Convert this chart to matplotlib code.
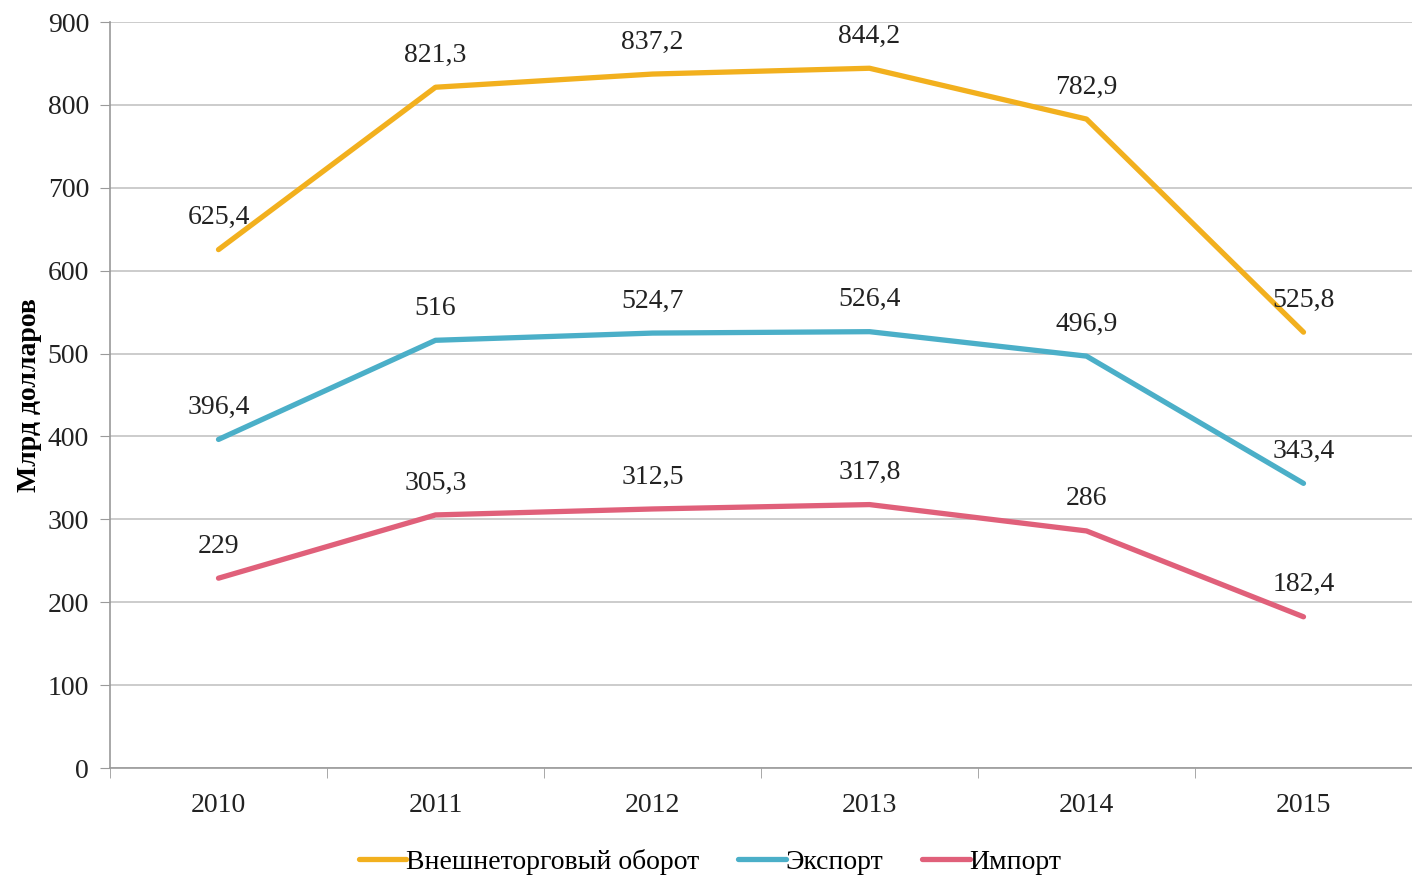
import matplotlib; matplotlib.use("Agg")
import matplotlib.pyplot as plt
from matplotlib.ticker import FixedLocator

plt.rcParams.update({"font.family": ["Liberation Serif", "DejaVu Serif"], "font.size": 20})

years = ["2010", "2011", "2012", "2013", "2014", "2015"]
turnover = [625.4, 821.3, 837.2, 844.2, 782.9, 525.8]
export = [396.4, 516, 524.7, 526.4, 496.9, 343.4]
imports = [229, 305.3, 312.5, 317.8, 286, 182.4]
names = ["Внешнеторговый оборот", "Экспорт", "Импорт"]
colors = ["#F2B01E", "#4BAFC8", "#E0607A"]

def fmt(v):
    s = f"{v:g}"
    return s.replace(".", ",")

fig = plt.figure(figsize=(14.12, 8.81), dpi=100)
ax = fig.add_axes([110/1412, 113/881, 1 - 110/1412, (768-22)/881])
x = range(len(years))
for vals, name, c in zip([turnover, export, imports], names, colors):
    ax.plot(x, vals, color=c, lw=3.8, label=name, solid_capstyle="round", zorder=3)
    for xi, v in zip(x, vals):
        ax.annotate(fmt(v), (xi, v), xytext=(0, 14), textcoords="offset points",
                    ha="center", va="bottom", fontsize=20, color="#222222")

ax.set_xlim(-0.5, 5.5)
ax.set_ylim(0, 900)
ax.set_yticks(range(0, 901, 100))
ax.set_xticks(list(x))
ax.set_xticklabels(years)
ax.xaxis.set_minor_locator(FixedLocator([i - 0.5 for i in range(7)]))
ax.tick_params(axis="x", which="major", length=0, pad=18, colors="#222222")
ax.tick_params(axis="x", which="minor", length=7, color="#9a9a9a")
ax.tick_params(axis="y", length=7, color="#9a9a9a", pad=8, labelcolor="#222222")
ax.grid(axis="y", color="#c8c8c8", lw=1.3)
ax.set_axisbelow(True)
for s in ["top", "right"]:
    ax.spines[s].set_visible(False)
for s in ["left", "bottom"]:
    ax.spines[s].set_color("#9a9a9a")
    ax.spines[s].set_linewidth(1.2)
ax.set_ylabel("Млрд долларов", fontweight="bold", fontsize=20, labelpad=4)

ax.legend(loc="upper center", bbox_to_anchor=(0.5 - 55/1412, -0.075), ncol=3, frameon=False,
          handlelength=1.7, handletextpad=0.0, columnspacing=1.4, fontsize=20)
fig.savefig("out.png", dpi=100)
